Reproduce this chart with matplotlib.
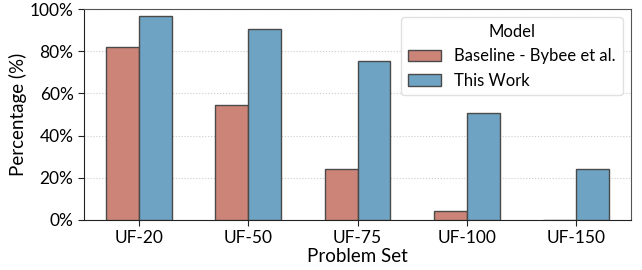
import matplotlib
matplotlib.use("Agg")
import matplotlib.pyplot as plt
import numpy as np
from matplotlib.ticker import FuncFormatter

categories = ["UF-20", "UF-50", "UF-75", "UF-100", "UF-150"]
baseline = [82.0, 54.5, 24.0, 4.3, 0.0]
this_work = [96.7, 90.5, 75.4, 50.7, 24.0]
series_names = ["Baseline - Bybee et al.", "This Work"]
colors = ["#cd8478", "#6fa3c3"]

plt.rcParams['font.family'] = ['Lato', 'DejaVu Sans']

fig = plt.figure(figsize=(6.42, 2.70), dpi=100)
ax = fig.add_axes([84/642, 50/270, (631-84)/642, (220-9)/270])

x = np.arange(len(categories))
w = 0.3
for i, (vals, name, c) in enumerate(zip([baseline, this_work], series_names, colors)):
    ax.bar(x + (i - 0.5) * w, vals, width=w, color=c, edgecolor="#4a4a4a",
           linewidth=1.0, label=name, zorder=3)

ax.set_xlim(-0.5, len(categories) - 0.5)
ax.set_ylim(0, 100)
ax.set_yticks([0, 20, 40, 60, 80, 100])
ax.yaxis.set_major_formatter(FuncFormatter(lambda v, p: f"{int(v)}%"))
ax.set_xticks(x)
ax.set_xticklabels(categories)
ax.tick_params(axis='both', labelsize=12.5, length=4, color="#222222")
ax.grid(axis='y', linestyle=':', color="#cccccc", linewidth=0.8, zorder=0)
ax.set_xlabel("Problem Set", fontsize=13.5, labelpad=1)
ax.set_ylabel("Percentage (%)", fontsize=13.5, labelpad=2)
for s in ax.spines.values():
    s.set_color("#555555")
ax.spines['left'].set_color("#222222")
ax.spines['bottom'].set_color("#222222")

leg = ax.legend(title="Model", loc="upper right", fontsize=12, title_fontsize=12,
                frameon=True, framealpha=0.9, edgecolor="#dddddd", fancybox=True)

fig.savefig("out.png", dpi=100)
